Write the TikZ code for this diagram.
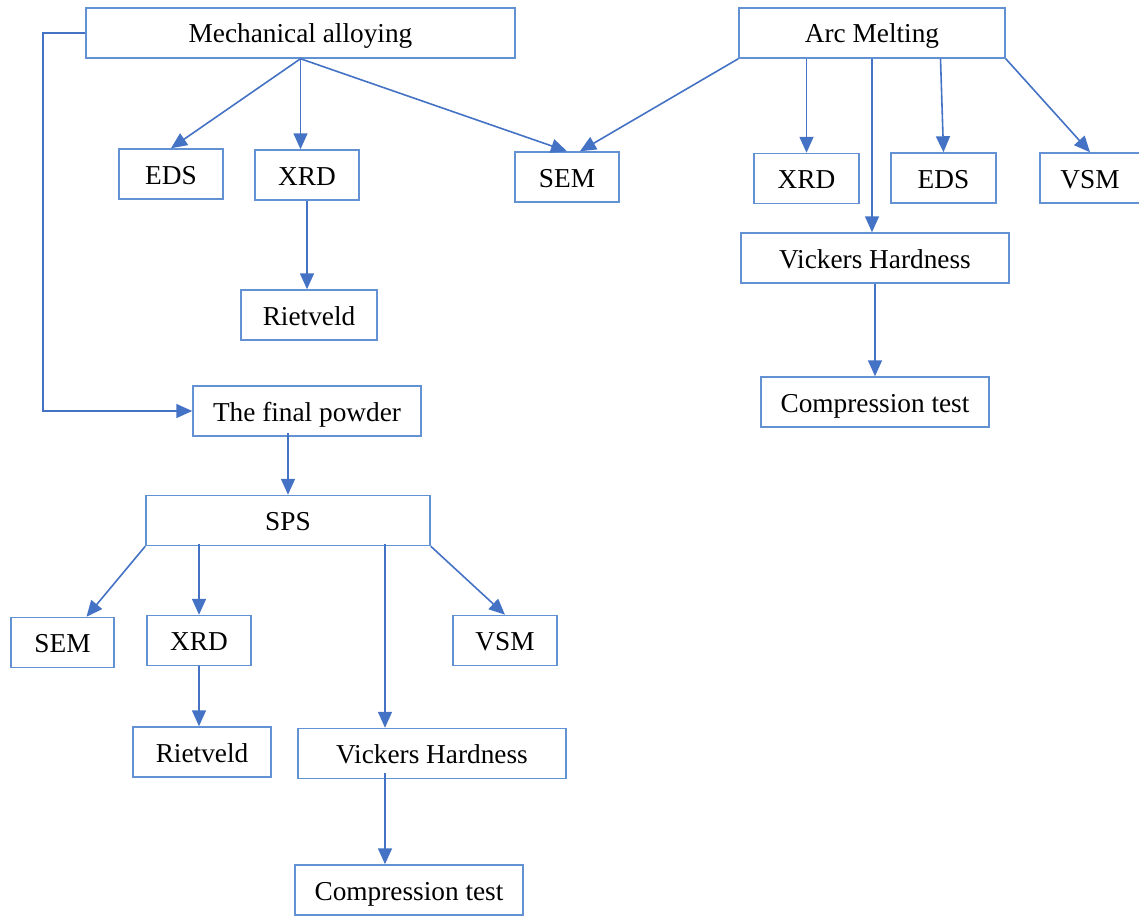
\documentclass[tikz,border=0pt]{standalone}
\usepackage{fontspec}
\setmainfont{Liberation Serif}
\usetikzlibrary{positioning,arrows.meta}
\definecolor{boxblue}{RGB}{98,146,212}
\definecolor{lineblue}{RGB}{68,114,196}
\tikzset{
 box/.style
  = {rectangle, draw=boxblue, line width=1.5pt, minimum height=50pt,
     inner sep=0pt, text height=20pt, text depth=0pt, text centered,
     font=\fontsize{27.3}{31}\selectfont},
 l/.style
  = {draw=lineblue, line width=1.6pt, -{Triangle[length=16pt,width=14pt]}}
}
\begin{document}
\begin{tikzpicture}[x=1pt,y=-1pt]
    \useasboundingbox (0,0) rectangle (1139,915);

    % two routes on top
    \node [box, minimum width=429pt] (alloying) at (300.5,33) {Mechanical alloying};
    \node [box, minimum width=266pt] (arc) at (872,33) {Arc Melting};

    % checks on the milled powder
    \node [box, minimum width=104pt] (edsA) at (171,174) {EDS};
    \node [box, minimum width=104pt] (xrdA) at (307,175) {XRD};
    \node [box, minimum width=104pt] (semA) at (567,177) {SEM};
    \node [box, minimum width=136pt] (rietA) at (309,315) {Rietveld};

    % checks on the melted ingot
    \node [box, minimum width=105pt] (xrdB) at (806.5,178.5) {XRD};
    \node [box, minimum width=105pt] (edsB) at (943.5,178) {EDS};
    \node [box, minimum width=100pt] (vsmB) at (1090,178) {VSM};
    \node [box, minimum width=268pt] (hardB) at (875,258) {Vickers Hardness};
    \node [box, minimum width=228pt] (compB) at (875,402) {Compression test};

    % sintering branch
    \node [box, minimum width=228pt] (powder) at (307,411) {The final powder};
    \node [box, minimum width=284pt] (sps) at (288,520.5) {SPS};
    \node [box, minimum width=103pt] (semC) at (62.5,642.5) {SEM};
    \node [box, minimum width=104pt] (xrdC) at (199,640.5) {XRD};
    \node [box, minimum width=104pt] (vsmC) at (505,640.5) {VSM};
    \node [box, minimum width=138pt] (rietC) at (202,752) {Rietveld};
    \node [box, minimum width=268pt] (hardC) at (432,753.5) {Vickers Hardness};
    \node [box, minimum width=228pt] (compC) at (409,890) {Compression test};

    \path [l] (alloying.south) -- (edsA.north);
    \path [l] (alloying.south) -- (alloying.south |- xrdA.north);
    \path [l] (alloying.south) -- (semA.north);
    \path [l] (xrdA.south) -- (xrdA.south |- rietA.north);
    \path [l] (alloying.west) -- ++(-42,0) |- (powder.west);

    \path [l] (arc.south west) -- ([xshift=13pt]semA.north);
    \path [l] (xrdB.north |- arc.south) -- (xrdB.north);
    \path [l] ([xshift=-3pt]edsB.north |- arc.south) -- (edsB.north);
    \path [l] (arc.south east) -- (vsmB.north);
    \path [l] (arc.south) -- (arc.south |- hardB.north);
    \path [l] (hardB.south) -- (compB.north);

    \path [l] ([yshift=4pt]sps.north |- powder.south) -- (sps.north);
    \path [l] (sps.south west) -- ([xshift=24pt]semC.north);
    \path [l] ([yshift=2pt]xrdC.north |- sps.south) -- (xrdC.north);
    \path [l] ([xshift=97pt,yshift=2pt]sps.south) -- ([xshift=97pt]sps.south |- hardC.north);
    \path [l] (sps.south east) -- (vsmC.north);
    \path [l] (xrdC.south) -- (xrdC.south |- rietC.north);
    \path [l] ([xshift=-47pt,yshift=6pt]hardC.south) -- ([xshift=-47pt]hardC.south |- compC.north);

\end{tikzpicture}
\end{document}
